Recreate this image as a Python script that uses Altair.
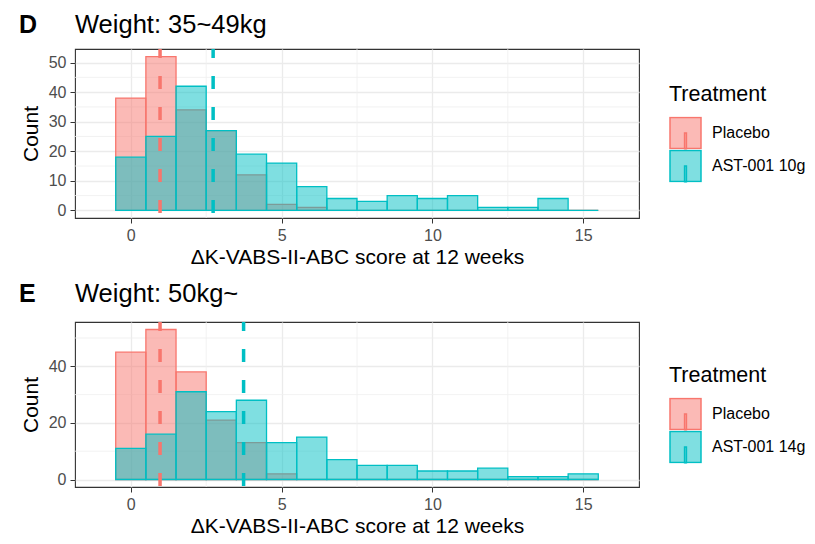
import altair as alt
import pandas as pd

FONT = "Liberation Sans, Arial, sans-serif"

# ---- data ----
bin_centers = list(range(16))
groups_d = ["Placebo", "AST-001 10g"]
groups_e = ["Placebo", "AST-001 14g"]
d_placebo = [38, 52, 34, 27, 12, 2, 1, 0, 0, 0, 0, 0, 0, 0, 0, 0]
d_ast = [18, 25, 42, 27, 19, 16, 8, 4, 3, 5, 4, 5, 1, 1, 4, 0]
e_placebo = [45, 53, 38, 21, 13, 2, 0, 0, 0, 0, 0, 0, 0, 0, 0, 0]
e_ast = [11, 16, 31, 24, 28, 13, 15, 7, 5, 5, 3, 3, 4, 1, 1, 2]
d_means = [0.97, 2.73]
e_means = [0.97, 3.74]
panel_letters = ["D", "E"]
panel_titles = ["Weight: 35~49kg", "Weight: 50kg~"]
x_title = "ΔK-VABS-II-ABC score at 12 weeks"
y_title = "Count"
legend_title = "Treatment"
x_major = [0, 5, 10, 15]
x_minor = [2.5, 7.5, 12.5]
x_domain = [-1.85, 16.85]
d_y_major = [0, 10, 20, 30, 40, 50]
d_y_minor = [5, 15, 25, 35, 45]
d_y_domain = [-2.6, 54.6]
e_y_major = [0, 20, 40]
e_y_minor = [10, 30, 50]
e_y_domain = [-2.65, 55.65]

line_colors = ["#F8766D", "#00BFC4"]
fill_colors = ["rgba(248,118,109,0.5)", "rgba(0,191,196,0.5)"]

SYMBOL = "M-1,-1H1V1H-1Z M-0.06,0H0.06V1.08H-0.06Z"


def panel(letter, title, groups, placebo, ast, means, y_domain, y_major, y_minor,
          legend_y, title_y, height):
    df_p = pd.DataFrame({"center": bin_centers, "count": placebo, "group": groups[0]})
    df_a = pd.DataFrame({"center": bin_centers, "count": ast, "group": groups[1]})
    df_m = pd.DataFrame({"group": groups, "mean": means})
    df_xm = pd.DataFrame({"v": x_minor})
    df_ym = pd.DataFrame({"v": y_minor})

    xs = alt.Scale(domain=x_domain, nice=False, zero=False)
    ys = alt.Scale(domain=y_domain, nice=False, zero=False)
    fs = alt.Scale(domain=groups, range=fill_colors)
    ss = alt.Scale(domain=groups, range=line_colors)
    leg = alt.Legend(
        title=legend_title, orient="none", legendX=594, legendY=legend_y,
        symbolType=SYMBOL, symbolSize=961, symbolStrokeWidth=1.5,
        titleFontSize=21.5, titleFont=FONT, titleFontWeight="normal", titleColor="black",
        labelFontSize=16, labelFont=FONT, labelColor="black", labelOffset=10,
        rowPadding=0, clipHeight=33, titlePadding=11, symbolOpacity=1,
    )
    ax_x = alt.Axis(values=x_major, title=x_title, grid=True)
    ax_y = alt.Axis(values=y_major, title=y_title, grid=True)

    minor_x = alt.Chart(df_xm).mark_rule(color="#EFEFEF", strokeWidth=0.8).encode(
        x=alt.X("v:Q", scale=xs, axis=ax_x)
    )
    minor_y = alt.Chart(df_ym).mark_rule(color="#EFEFEF", strokeWidth=0.8).encode(
        y=alt.Y("v:Q", scale=ys, axis=ax_y)
    )

    def bars(df):
        return alt.Chart(df).transform_calculate(
            lo="datum.center - 0.5", hi="datum.center + 0.5", zero="0"
        ).mark_rect(strokeWidth=1.3).encode(
            x=alt.X("lo:Q", scale=xs, axis=ax_x),
            x2="hi:Q",
            y=alt.Y("count:Q", scale=ys, axis=ax_y),
            y2="zero:Q",
            fill=alt.Fill("group:N", scale=fs, legend=leg),
            stroke=alt.Stroke("group:N", scale=ss, legend=leg),
        )

    rules = alt.Chart(df_m).mark_rule(
        strokeWidth=3.5, strokeDash=[13, 18], strokeDashOffset=4
    ).encode(
        x=alt.X("mean:Q", scale=xs, axis=ax_x),
        stroke=alt.Stroke("group:N", scale=ss, legend=leg),
    )

    lab = alt.Chart(pd.DataFrame({"letter": [letter]})).mark_text(
        align="left", baseline="top", fontSize=25, fontWeight="bold",
        font=FONT, color="black"
    ).encode(text="letter:N", x=alt.value(-56), y=alt.value(title_y))

    ttl = alt.Chart(pd.DataFrame({"title": [title]})).mark_text(
        align="left", baseline="top", fontSize=25.5, fontWeight="normal",
        font=FONT, color="black"
    ).encode(text="title:N", x=alt.value(0), y=alt.value(title_y))

    return alt.layer(
        minor_x, minor_y, bars(df_p), bars(df_a), rules, lab, ttl
    ).properties(width=564, height=height)


pd_ = panel(panel_letters[0], panel_titles[0], groups_d, d_placebo, d_ast, d_means,
            d_y_domain, d_y_major, d_y_minor, 35, -36, 169)
pe_ = panel(panel_letters[1], panel_titles[1], groups_e, e_placebo, e_ast, e_means,
            e_y_domain, e_y_major, e_y_minor, 43, -40, 165)

chart = alt.vconcat(pd_, pe_, spacing=13).resolve_scale(
    y="independent", fill="independent", stroke="independent"
).resolve_legend(fill="independent", stroke="independent").properties(
    padding={"left": 10, "top": 4, "right": 0, "bottom": 0}
).configure_view(stroke="#333333", strokeWidth=1.1).configure_axis(
    labelFont=FONT, labelFontSize=16, labelColor="#4D4D4D", labelPadding=4,
    titleFont=FONT, titleFontSize=21, titleColor="black", titleFontWeight="normal",
    tickColor="#333333", tickSize=5, tickWidth=1, domain=False,
    gridColor="#EBEBEB", gridWidth=1.3,
).configure_axisX(titlePadding=3).configure_axisY(titlePadding=6.5)

chart.save("out.html", embed_options={"renderer": "svg", "actions": False})
